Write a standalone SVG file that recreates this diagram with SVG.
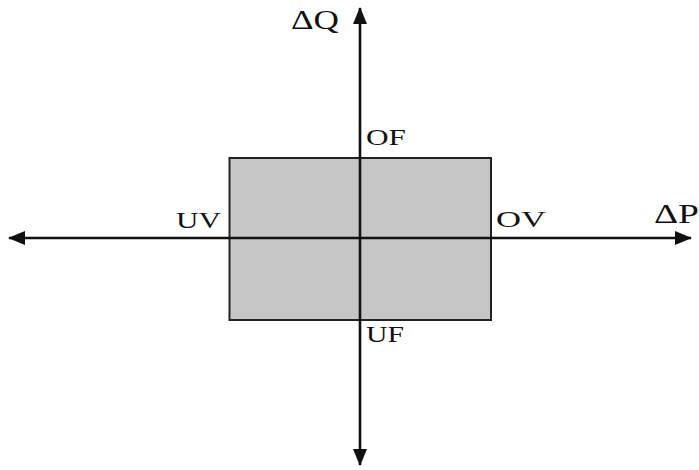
<svg xmlns="http://www.w3.org/2000/svg" width="699" height="470" viewBox="0 0 699 470">
<style>
.ax{stroke:#111;stroke-width:2.6;fill:none}
.t{font-family:"Liberation Serif",serif;font-size:23px;fill:#111}
.tb{font-family:"Liberation Serif",serif;font-size:27px;fill:#111}
</style>
<defs>
<marker id="ah" viewBox="0 0 17 14" refX="16" refY="7" markerWidth="17" markerHeight="14" markerUnits="userSpaceOnUse" orient="auto">
<path d="M0,0 L17,7 L0,14 Z" fill="#111"/>
</marker>
</defs>
<rect width="699" height="470" fill="#fff"/>
<g id="region">
<rect x="229.5" y="158" width="261.5" height="162" fill="#c6c6c6" stroke="#222" stroke-width="2"/>
</g>
<g id="connectors">
<line class="ax" x1="360" y1="238" x2="360" y2="8" marker-end="url(#ah)"/>
<line class="ax" x1="360" y1="238" x2="360" y2="465" marker-end="url(#ah)"/>
<line class="ax" x1="360" y1="238" x2="9" y2="238" marker-end="url(#ah)"/>
<line class="ax" x1="360" y1="238" x2="691" y2="238" marker-end="url(#ah)"/>
</g>
<g id="labels">
<text class="tb" x="291" y="29" textLength="48" lengthAdjust="spacingAndGlyphs">ΔQ</text>
<text class="tb" x="654" y="223" textLength="45" lengthAdjust="spacingAndGlyphs">ΔP</text>
<text class="t" x="366" y="145" textLength="40" lengthAdjust="spacingAndGlyphs">OF</text>
<text class="t" x="366" y="342" textLength="38" lengthAdjust="spacingAndGlyphs">UF</text>
<text class="t" x="176" y="228" textLength="45" lengthAdjust="spacingAndGlyphs">UV</text>
<text class="t" x="496" y="227" textLength="50" lengthAdjust="spacingAndGlyphs">OV</text>
</g>
</svg>
